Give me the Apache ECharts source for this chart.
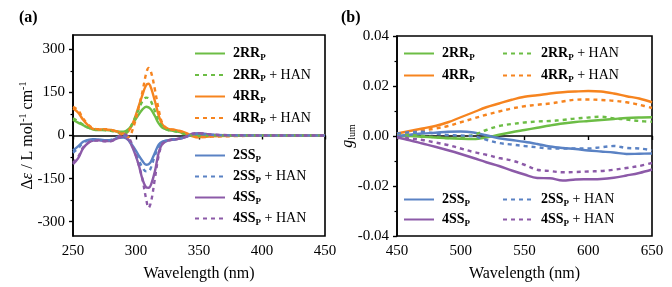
<!DOCTYPE html>
<html>
<head>
<meta charset="utf-8">
<script src="https://cdn.jsdelivr.net/npm/echarts@6/dist/echarts.min.js"></script>
<style>
  html, body { margin: 0; padding: 0; background: #fff; }
  #chart { width: 672px; height: 287px; }
</style>
</head>
<body>
<div id="chart"></div>
<script>
// panel (a) CD spectra
const wlA = [250, 254, 258, 262, 266, 270, 275, 280, 285, 290, 294, 298, 302, 305, 308, 310, 312, 315, 318, 321, 325, 330, 335, 340, 345, 350, 360, 380, 400, 420, 450];
const cd2RR = [55, 45, 36, 27, 21, 19, 19, 18, 14, 13, 22, 45, 72, 90, 100, 98, 90, 68, 42, 27, 20, 16, 12, 4, 0, -1, 0, 0, 0, 0, 0];
const cd2RRHan = [60, 50, 38, 28, 22, 20, 19, 16, 10, 5, 18, 50, 90, 118, 132, 130, 118, 85, 50, 30, 20, 15, 10, 3, 0, -2, 0, 0, 0, 0, 0];
const cd4RR = [95, 80, 55, 35, 23, 21, 21, 19, 14, 6, 15, 48, 100, 140, 175, 180, 165, 120, 70, 38, 24, 20, 16, 8, -3, -6, -3, -1, 0, 0, 0];
const cd4RRHan = [100, 88, 60, 38, 25, 22, 22, 20, 12, 0, -5, 30, 95, 150, 215, 235, 220, 160, 90, 42, 24, 20, 15, 6, -4, -6, -4, -2, 0, 0, 0];
const cd2SS = [-52, -38, -22, -15, -13, -14, -16, -16, -9, -7, -16, -40, -68, -88, -102, -100, -90, -60, -32, -21, -17, -14, -11, -5, 4, 5, 2, 0, 0, 0, 0];
const cd2SSHan = [-60, -45, -25, -16, -14, -15, -17, -15, -6, 0, -12, -45, -85, -110, -125, -125, -110, -70, -38, -22, -17, -13, -10, -4, 5, 6, 2, 0, 0, 0, 0];
const cd4SS = [-100, -80, -45, -26, -18, -17, -19, -19, -10, -4, -15, -50, -100, -150, -180, -182, -170, -125, -60, -28, -18, -14, -11, -4, 6, 8, 3, 1, 0, 0, 0];
const cd4SSHan = [-95, -75, -42, -25, -18, -18, -20, -20, -8, 5, -5, -45, -100, -150, -220, -252, -230, -150, -70, -30, -18, -14, -10, -3, 6, 8, 3, 1, 0, 0, 0];

// panel (b) glum
const wlB = [450, 460, 470, 480, 490, 500, 510, 520, 530, 540, 550, 560, 570, 580, 590, 600, 610, 620, 630, 640, 650];
const g4RR = [0.001, 0.002, 0.003, 0.004, 0.0055, 0.0075, 0.0095, 0.0115, 0.013, 0.0145, 0.0157, 0.0163, 0.017, 0.0175, 0.0178, 0.018, 0.0178, 0.017, 0.0159, 0.015, 0.0135];
const g4RRHan = [0.001, 0.0015, 0.0022, 0.003, 0.004, 0.0055, 0.007, 0.0085, 0.0098, 0.011, 0.0119, 0.0125, 0.013, 0.0138, 0.0145, 0.0146, 0.0144, 0.0141, 0.0135, 0.0125, 0.0112];
const g2RR = [0, 0, -0.0003, -0.0006, -0.0009, -0.0011, -0.0012, -0.0006, 0.0005, 0.0015, 0.0024, 0.0033, 0.0042, 0.005, 0.0056, 0.006, 0.0064, 0.0068, 0.0072, 0.0074, 0.0075];
const g2RRHan = [0.001, 0.0005, 0, -0.0005, -0.0008, -0.0005, 0.0004, 0.0024, 0.004, 0.0048, 0.0054, 0.0058, 0.006, 0.0064, 0.007, 0.0074, 0.0077, 0.007, 0.0066, 0.006, 0.0057];
const g2SS = [0, 0.0005, 0.001, 0.0013, 0.0017, 0.0018, 0.0014, 0.0003, -0.0009, -0.0016, -0.0023, -0.0032, -0.0042, -0.0048, -0.0052, -0.0058, -0.0062, -0.0066, -0.0072, -0.0071, -0.007];
const g2SSHan = [0.001, 0.0015, 0.0017, 0.001, 0.0004, 0.0002, -0.0001, -0.0015, -0.0028, -0.0034, -0.004, -0.0045, -0.005, -0.005, -0.005, -0.005, -0.0045, -0.004, -0.0048, -0.005, -0.0057];
const g4SS = [-0.0005, -0.0017, -0.003, -0.0043, -0.0057, -0.0072, -0.0088, -0.0105, -0.012, -0.0138, -0.0154, -0.0168, -0.0169, -0.0178, -0.0174, -0.0173, -0.0172, -0.0167, -0.0158, -0.0148, -0.0134];
const g4SSHan = [-0.0005, -0.001, -0.0016, -0.0026, -0.0036, -0.005, -0.0064, -0.0075, -0.0088, -0.0098, -0.0115, -0.0135, -0.014, -0.0145, -0.0144, -0.0142, -0.014, -0.0135, -0.0128, -0.012, -0.0108];

const yTicksA = [-300, -150, 0, 150, 300];
const yMinorA = [-225, -75, 75, 225];

const GREEN = "#6cbd45", ORANGE = "#f6841f", BLUE = "#5a82c4", PURPLE = "#8c5aa8";
const FONT = "Liberation Serif";

const chart = echarts.init(document.getElementById("chart"));

function zip(xs, ys) {
  return xs.map((x, i) => [x, ys[i]]);
}

function line(name, xs, ys, color, dashed, gi) {
  return {
    name: name,
    type: "line",
    xAxisIndex: gi,
    yAxisIndex: gi === 0 ? 0 : 2,
    data: zip(xs, ys),
    smooth: 0.35,
    symbol: "none",
    lineStyle: { color: color, width: 2.4, type: dashed ? [4, 4] : "solid" },
    itemStyle: { color: color },
    z: dashed ? 3 : 2,
  };
}

// legend text: name like "a2RR" / "a2RR+" -> bold label with subscript P
function legendFmt(name) {
  const base = name.slice(1).replace("+", "");
  let s = "{b|" + base + "}{s|P}";
  if (name.endsWith("+")) s += "{n| + HAN}";
  return s;
}

const legendRich = {
  b: { fontFamily: FONT, fontWeight: "bold", fontSize: 14, color: "#000", lineHeight: 16 },
  s: { fontFamily: FONT, fontWeight: "bold", fontSize: 9, color: "#000", padding: [8, 0, 0, 0], lineHeight: 10 },
  n: { fontFamily: FONT, fontSize: 14, color: "#000", lineHeight: 16 },
};

function legend(names, left, top, gap) {
  return {
    data: names,
    orient: "vertical",
    left: left,
    top: top,
    padding: 0,
    itemWidth: 30,
    itemHeight: 14,
    itemGap: gap,
    selectedMode: false,
    itemStyle: { opacity: 0 },
    formatter: legendFmt,
    textStyle: { rich: legendRich, padding: [0, 0, 0, 3] },
  };
}

const axisLineStyle = { lineStyle: { color: "#000", width: 1.6 } };
const tickLabel = { color: "#000", fontFamily: FONT, fontSize: 15 };

const option = {
  animation: false,
  title: [
    { text: "(a)", left: 14, top: 5, textStyle: { fontFamily: FONT, fontWeight: "bold", fontSize: 16, color: "#000" } },
    { text: "(b)", left: 336, top: 5, textStyle: { fontFamily: FONT, fontWeight: "bold", fontSize: 16, color: "#000" } },
  ],
  grid: [
    { left: 73, top: 35, width: 252, height: 201, show: true, borderColor: "#000", borderWidth: 1.6, outerBoundsMode: "none", containLabel: false },
    { left: 397, top: 36, width: 255, height: 200, show: true, borderColor: "#000", borderWidth: 1.6, outerBoundsMode: "none", containLabel: false },
  ],
  xAxis: [
    {
      gridIndex: 0, type: "value", min: 250, max: 450, interval: 50,
      name: "Wavelength (nm)", nameLocation: "middle", nameGap: 30, nameMoveOverlap: false,
      nameTextStyle: { color: "#000", fontFamily: FONT, fontSize: 16 },
      axisLine: axisLineStyle, axisTick: { length: 4, lineStyle: { width: 1.4 } },
      axisLabel: tickLabel, splitLine: { show: false },
    },
    {
      gridIndex: 1, type: "value", min: 450, max: 650, interval: 50,
      name: "Wavelength (nm)", nameLocation: "middle", nameGap: 30, nameMoveOverlap: false,
      nameTextStyle: { color: "#000", fontFamily: FONT, fontSize: 16 },
      axisLine: axisLineStyle, axisTick: { length: 4, lineStyle: { width: 1.4 } },
      axisLabel: tickLabel, splitLine: { show: false },
    },
  ],
  yAxis: [
    {
      gridIndex: 0, type: "value", min: -350, max: 350,
      name: "Δ{i|ε} / L mol{sup|-1} cm{sup|-1}", nameLocation: "middle", nameGap: 36, nameMoveOverlap: false,
      nameTextStyle: {
        color: "#000", fontFamily: FONT, fontSize: 16,
        rich: {
          i: { fontFamily: FONT, fontStyle: "italic", fontSize: 16, color: "#000" },
          sup: { fontFamily: FONT, fontSize: 10, color: "#000", padding: [0, 0, 9, 0] },
        },
      },
      axisLine: axisLineStyle,
      axisTick: { length: 4, customValues: yTicksA, lineStyle: { width: 1.4 } },
      axisLabel: Object.assign({ customValues: yTicksA }, tickLabel),
      splitLine: { show: false },
    },
    {
      gridIndex: 0, type: "value", min: -350, max: 350, position: "left",
      axisLine: { show: false },
      axisTick: { length: 2.5, customValues: yMinorA, lineStyle: { width: 1.2, color: "#000" } },
      axisLabel: { show: false, customValues: yMinorA },
      splitLine: { show: false },
    },
    {
      gridIndex: 1, type: "value", min: -0.04, max: 0.04, interval: 0.02,
      name: "{i|g}{sub|lum}", nameLocation: "middle", nameGap: 40, nameMoveOverlap: false,
      nameTextStyle: {
        color: "#000", fontFamily: FONT, fontSize: 16,
        rich: {
          i: { fontFamily: FONT, fontStyle: "italic", fontSize: 16, color: "#000" },
          sub: { fontFamily: FONT, fontSize: 10, color: "#000", padding: [9, 0, 0, 0] },
        },
      },
      axisLine: axisLineStyle,
      axisTick: { length: 4, lineStyle: { width: 1.4 } },
      minorTick: { show: true, splitNumber: 2, length: 2.5, lineStyle: { color: "#000", width: 1.2 } },
      axisLabel: Object.assign({ formatter: (v) => v.toFixed(2) }, tickLabel),
      splitLine: { show: false },
    },
  ],
  legend: [
    legend(["a2RR", "a2RR+", "a4RR", "a4RR+"], 194, 45, 4.5),
    legend(["a2SS", "a2SS+", "a4SS", "a4SS+"], 194, 147, 4),
    legend(["b2RR", "b4RR"], 403, 45, 5),
    legend(["b2RR+", "b4RR+"], 502, 45, 5),
    legend(["b2SS", "b4SS"], 403, 191, 3),
    legend(["b2SS+", "b4SS+"], 502, 191, 3),
  ],
  series: [
    line("a2RR", wlA, cd2RR, GREEN, false, 0),
    line("a2RR+", wlA, cd2RRHan, GREEN, true, 0),
    line("a4RR", wlA, cd4RR, ORANGE, false, 0),
    line("a4RR+", wlA, cd4RRHan, ORANGE, true, 0),
    line("a2SS", wlA, cd2SS, BLUE, false, 0),
    line("a2SS+", wlA, cd2SSHan, BLUE, true, 0),
    line("a4SS", wlA, cd4SS, PURPLE, false, 0),
    line("a4SS+", wlA, cd4SSHan, PURPLE, true, 0),
    line("b2RR", wlB, g2RR, GREEN, false, 1),
    line("b2RR+", wlB, g2RRHan, GREEN, true, 1),
    line("b4RR", wlB, g4RR, ORANGE, false, 1),
    line("b4RR+", wlB, g4RRHan, ORANGE, true, 1),
    line("b2SS", wlB, g2SS, BLUE, false, 1),
    line("b2SS+", wlB, g2SSHan, BLUE, true, 1),
    line("b4SS", wlB, g4SS, PURPLE, false, 1),
    line("b4SS+", wlB, g4SSHan, PURPLE, true, 1),
  ],
};

chart.setOption(option);
</script>
</body>
</html>
